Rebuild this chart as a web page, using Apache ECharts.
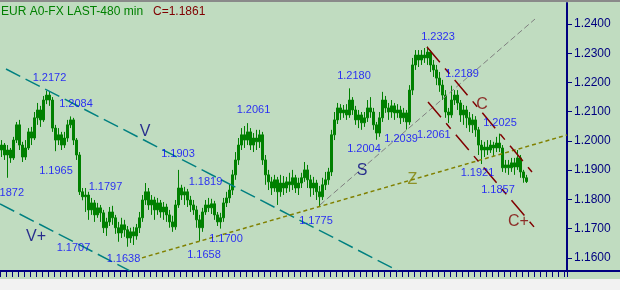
<!DOCTYPE html>
<html>
<head>
<meta charset="utf-8">
<script src="https://cdn.jsdelivr.net/npm/echarts@6/dist/echarts.min.js"></script>
<style>
html,body{margin:0;padding:0;background:#C0DCC0;}
#c{width:620px;height:290px;}
</style>
</head>
<body>
<div id="c"></div>
<script>
// ---- data ----
const titleText = 'EUR A0-FX LAST-480 min';
// OHLC bars: [open, close, low, high]
const bars = [
[1.1969,1.1986,1.1945,1.2003],[1.1986,1.1952,1.1935,1.1993],[1.1952,1.1969,1.1874,1.1986],[1.1969,1.1942,1.1925,1.1976],
[1.1942,1.2003,1.1935,1.2014],[1.2003,1.2055,1.1993,1.2065],[1.2055,1.1986,1.1969,1.2072],[1.1986,1.1945,1.1928,1.1997],
[1.1945,1.1976,1.1935,1.2003],[1.1976,1.2031,1.1969,1.2044],[1.2031,1.2010,1.1986,1.2048],[1.2010,1.2079,1.2003,1.2099],
[1.2079,1.2106,1.2055,1.2130],[1.2106,1.2072,1.2048,1.2120],[1.2072,1.2140,1.2065,1.2154],[1.2140,1.2157,1.2126,1.2172],
[1.2157,1.2140,1.2120,1.2168],[1.2140,1.2044,1.2031,1.2150],[1.2044,1.2003,1.1965,1.2055],[1.2003,1.2021,1.1986,1.2044],
[1.2021,1.1986,1.1969,1.2031],[1.1986,1.2010,1.1976,1.2031],[1.2010,1.2055,1.1997,1.2072],[1.2055,1.2072,1.2044,1.2084],
[1.2072,1.2003,1.1986,1.2079],[1.2003,1.1952,1.1935,1.2010],[1.1952,1.1826,1.1815,1.1962],[1.1826,1.1809,1.1797,1.1839],
[1.1809,1.1815,1.1757,1.1839],[1.1815,1.1764,1.1730,1.1826],[1.1764,1.1788,1.1747,1.1805],[1.1788,1.1747,1.1723,1.1798],
[1.1747,1.1771,1.1737,1.1788],[1.1771,1.1754,1.1723,1.1781],[1.1754,1.1703,1.1685,1.1764],[1.1703,1.1723,1.1675,1.1737],
[1.1723,1.1757,1.1709,1.1774],[1.1757,1.1737,1.1713,1.1778],[1.1737,1.1703,1.1682,1.1747],[1.1703,1.1685,1.1655,1.1723],
[1.1685,1.1713,1.1668,1.1737],[1.1713,1.1696,1.1672,1.1730],[1.1696,1.1668,1.1638,1.1709],[1.1668,1.1689,1.1651,1.1703],
[1.1689,1.1675,1.1644,1.1706],[1.1675,1.1703,1.1662,1.1716],[1.1703,1.1737,1.1685,1.1757],[1.1737,1.1798,1.1723,1.1815],
[1.1798,1.1826,1.1781,1.1856],[1.1826,1.1781,1.1764,1.1839],[1.1781,1.1798,1.1747,1.1815],[1.1798,1.1764,1.1730,1.1809],
[1.1764,1.1788,1.1747,1.1805],[1.1788,1.1757,1.1737,1.1798],[1.1757,1.1774,1.1730,1.1791],[1.1774,1.1747,1.1723,1.1785],
[1.1747,1.1723,1.1703,1.1764],[1.1723,1.1706,1.1689,1.1744],[1.1706,1.1781,1.1696,1.1798],[1.1781,1.1839,1.1771,1.1901],
[1.1839,1.1815,1.1798,1.1850],[1.1815,1.1826,1.1781,1.1843],[1.1826,1.1798,1.1774,1.1836],[1.1798,1.1781,1.1757,1.1812],
[1.1781,1.1764,1.1747,1.1798],[1.1764,1.1730,1.1703,1.1778],[1.1730,1.1703,1.1658,1.1747],[1.1703,1.1757,1.1689,1.1771],
[1.1757,1.1781,1.1747,1.1798],[1.1781,1.1771,1.1757,1.1805],[1.1771,1.1785,1.1750,1.1802],[1.1785,1.1747,1.1730,1.1795],
[1.1747,1.1723,1.1709,1.1757],[1.1723,1.1737,1.1700,1.1754],[1.1737,1.1788,1.1723,1.1805],[1.1788,1.1805,1.1774,1.1826],
[1.1805,1.1832,1.1788,1.1850],[1.1832,1.1884,1.1815,1.1901],[1.1884,1.1935,1.1867,1.1962],[1.1935,1.1986,1.1918,1.2010],
[1.1986,1.2021,1.1969,1.2044],[1.2021,1.2003,1.1976,1.2051],[1.2003,1.2031,1.1986,1.2061],[1.2031,1.1986,1.1969,1.2044],
[1.1986,1.2010,1.1962,1.2027],[1.2010,1.1997,1.1969,1.2038],[1.1997,1.2021,1.1976,1.2038],[1.2021,1.1935,1.1918,1.2031],
[1.1935,1.1884,1.1850,1.1952],[1.1884,1.1860,1.1832,1.1901],[1.1860,1.1839,1.1815,1.1877],[1.1839,1.1867,1.1826,1.1884],
[1.1867,1.1826,1.1781,1.1877],[1.1826,1.1856,1.1809,1.1884],[1.1856,1.1839,1.1815,1.1880],[1.1839,1.1860,1.1822,1.1877],
[1.1860,1.1850,1.1826,1.1891],[1.1850,1.1874,1.1832,1.1901],[1.1874,1.1839,1.1822,1.1884],[1.1839,1.1856,1.1815,1.1874],
[1.1856,1.1874,1.1839,1.1891],[1.1874,1.1901,1.1860,1.1928],[1.1901,1.1867,1.1839,1.1918],[1.1867,1.1839,1.1809,1.1884],
[1.1839,1.1856,1.1815,1.1877],[1.1856,1.1826,1.1798,1.1867],[1.1826,1.1809,1.1775,1.1846],[1.1809,1.1850,1.1798,1.1874],
[1.1850,1.1867,1.1832,1.1894],[1.1867,1.1894,1.1850,1.1908],[1.1894,1.2021,1.1880,1.2038],[1.2021,1.2072,1.2003,1.2099],
[1.2072,1.2113,1.2058,1.2130],[1.2113,1.2096,1.2072,1.2126],[1.2096,1.2106,1.2079,1.2123],[1.2106,1.2089,1.2072,1.2126],
[1.2089,1.2140,1.2079,1.2180],[1.2140,1.2106,1.2089,1.2150],[1.2106,1.2072,1.2055,1.2120],[1.2072,1.2089,1.2044,1.2106],
[1.2089,1.2062,1.2038,1.2099],[1.2062,1.2079,1.2048,1.2099],[1.2079,1.2113,1.2065,1.2140],[1.2113,1.2099,1.2079,1.2150],
[1.2099,1.2055,1.2038,1.2113],[1.2055,1.2027,1.2004,1.2065],[1.2027,1.2079,1.2014,1.2099],[1.2079,1.2140,1.2065,1.2168],
[1.2140,1.2113,1.2096,1.2154],[1.2113,1.2099,1.2072,1.2130],[1.2099,1.2120,1.2079,1.2140],[1.2120,1.2096,1.2072,1.2130],
[1.2096,1.2106,1.2079,1.2126],[1.2106,1.2079,1.2058,1.2120],[1.2079,1.2096,1.2065,1.2113],[1.2096,1.2065,1.2039,1.2106],
[1.2065,1.2174,1.2055,1.2191],[1.2174,1.2260,1.2157,1.2284],[1.2260,1.2294,1.2243,1.2311],[1.2294,1.2277,1.2253,1.2311],
[1.2277,1.2294,1.2260,1.2311],[1.2294,1.2284,1.2267,1.2318],[1.2284,1.2304,1.2260,1.2323],[1.2304,1.2260,1.2236,1.2311],
[1.2260,1.2243,1.2219,1.2277],[1.2243,1.2215,1.2191,1.2260],[1.2215,1.2191,1.2168,1.2236],[1.2191,1.2157,1.2140,1.2209],
[1.2157,1.2099,1.2079,1.2174],[1.2099,1.2089,1.2061,1.2113],[1.2089,1.2140,1.2079,1.2189],[1.2140,1.2157,1.2123,1.2174],
[1.2157,1.2130,1.2106,1.2174],[1.2130,1.2089,1.2065,1.2140],[1.2089,1.2106,1.2055,1.2123],[1.2106,1.2079,1.2044,1.2120],
[1.2079,1.2055,1.2031,1.2099],[1.2055,1.2072,1.2027,1.2092],[1.2072,1.2038,1.2014,1.2085],[1.2038,1.1986,1.1952,1.2048],
[1.1986,1.1969,1.1921,1.2003],[1.1969,1.1979,1.1945,1.1997],[1.1979,1.1969,1.1952,1.2003],[1.1969,1.1986,1.1959,1.2003],
[1.1986,1.1976,1.1949,1.1997],[1.1976,1.1993,1.1962,1.2014],[1.1993,1.1976,1.1962,1.2025],[1.1976,1.1908,1.1894,1.1986],
[1.1908,1.1918,1.1891,1.1935],[1.1918,1.1908,1.1884,1.1935],[1.1908,1.1925,1.1894,1.1942],[1.1925,1.1911,1.1884,1.1942],
[1.1911,1.1942,1.1901,1.1969],[1.1942,1.1894,1.1874,1.1952],[1.1894,1.1874,1.1857,1.1901],[1.1874,1.1861,1.1856,1.1884]
];
const slotCount = 189;              // bar slots along the time axis
const priceTicks = [1.16,1.17,1.18,1.19,1.20,1.21,1.22,1.23,1.24];

// pivot annotations: text, slot position, price position
const pivotLabels = ['1.2172','1.2084','1.1965','1.1872','1.1797','1.1707','1.1638','1.1903','1.1819','1.1700','1.1658',
                     '1.2061','1.1775','1.2180','1.2004','1.2039','1.2061','1.2323','1.2189','1.2025','1.1921','1.1857'];
const pivotSlots  = [16.0,24.83,18.17,1.9,34.67,24,40.67,58.83,68,74.83,67.5,
                     84,104.83,117.5,120.83,133.2,144.1,145.5,153.5,166.17,158.67,165.5];
const pivotPrices = [1.2215,1.2126,1.1897,1.1822,1.1843,1.1634,1.1597,1.1956,1.1860,1.1665,1.1610,
                     1.2106,1.1727,1.2222,1.1973,1.2007,1.2021,1.2356,1.2229,1.2062,1.1891,1.1833];

// wave tags
const waveTags   = ['V','V+','S','Z','C','C+'];
const waveSlots  = [47.83,11.5,120.17,137,160.17,172.33];
const wavePrices = [1.2031,1.1672,1.1897,1.1867,1.2123,1.1723];

// trend lines: [slot, price] endpoints
const lineV     = [[1.5,1.22462],[132.17,1.15556]];
const lineVplus = [[-0.5,1.17846],[42.83,1.15556]];
const lineS     = [[106.17,1.17812],[177.83,1.24171]];
const lineZ     = [[46.83,1.16],[188.5,1.20205]];
const lineC     = [[141.83,1.23214],[176.83,1.18940]];
const lineCplus = [[142.17,1.21333],[177.5,1.17060]];

// ---- chart ----
const F = 'Arial, "Liberation Sans", sans-serif';
const categories = Array.from({length: slotCount}, (_, i) => String(i));
const lastClose = bars[bars.length - 1][1];

const tagColors = {'V':'#000080','V+':'#000080','S':'#000080','Z':'#808000','C':'#800000','C+':'#800000'};

function lineSeries(pts, color, dash, width) {
  return {
    type: 'line', xAxisIndex: 1, yAxisIndex: 0, data: pts, showSymbol: false, symbol: 'none',
    silent: true, z: 3, lineStyle: {color: color, width: width, type: dash}
  };
}

const chart = echarts.init(document.getElementById('c'), null, {renderer: 'canvas'});
chart.setOption({
  animation: false,
  backgroundColor: '#C0DCC0',
  title: [
    {text: titleText, left: 1, top: 6, padding: 0,
     textStyle: {color: '#008000', fontSize: 12, fontWeight: 'normal', fontFamily: F}},
    {text: 'C=' + lastClose.toFixed(4), left: 153, top: 6, padding: 0,
     textStyle: {color: '#800000', fontSize: 12, fontWeight: 'normal', fontFamily: F}}
  ],
  grid: {left: 0, right: 53, top: 3, bottom: 19, containLabel: false},
  xAxis: [
    {type: 'category', data: categories, boundaryGap: true,
     axisLine: {show: true, lineStyle: {color: '#000080', width: 2}},
     axisTick: {show: true, interval: 1, length: 6, inside: false, lineStyle: {color: '#000080', width: 1}},
     axisLabel: {show: false}, splitLine: {show: false}},
    {type: 'value', min: -0.5, max: slotCount - 0.5, show: false}
  ],
  yAxis: {
    type: 'value', position: 'right', min: 1.1555, max: 1.2472, scale: true,
    axisLine: {show: true, onZero: false, lineStyle: {color: '#000080', width: 2}},
    axisTick: {show: true, length: 5, inside: false, customValues: priceTicks, lineStyle: {color: '#000080', width: 1}},
    axisLabel: {show: true, customValues: priceTicks, formatter: v => Number(v).toFixed(4),
                color: '#000080', fontSize: 12, margin: 7, fontFamily: F},
    splitLine: {show: false}
  },
  graphic: [
    {type: 'rect', shape: {x: 0, y: 0, width: 620, height: 2}, style: {fill: '#8a8a8a'}, silent: true},
    {type: 'rect', shape: {x: 0, y: 279, width: 620, height: 11}, style: {fill: '#f2f2f2'}, silent: true},
    {type: 'line', shape: {x1: 567, y1: 271, x2: 620, y2: 271}, style: {stroke: '#000080', lineWidth: 2}, silent: true}
  ],
  series: [
    {type: 'candlestick', data: bars, barWidth: 2, silent: true, z: 2,
     itemStyle: {color: '#008000', color0: '#008000', borderColor: '#008000', borderColor0: '#008000', borderWidth: 1}},
    lineSeries(lineV, '#008080', [16, 6], 1.5),
    lineSeries(lineVplus, '#008080', [16, 6], 1.5),
    lineSeries(lineS, '#808080', [6, 3], 1),
    lineSeries(lineZ, '#808000', [4, 3], 1.5),
    lineSeries(lineC, '#800000', [20, 8, 7, 8], 1.5),
    lineSeries(lineCplus, '#800000', [20, 8, 7, 8], 1.5),
    {type: 'scatter', xAxisIndex: 1, yAxisIndex: 0, silent: true, z: 5, symbolSize: 1,
     itemStyle: {color: 'rgba(0,0,0,0)'},
     data: pivotLabels.map((t, i) => ({name: t, value: [pivotSlots[i], pivotPrices[i]]})),
     label: {show: true, position: 'inside', formatter: '{b}', color: '#0000FF', fontSize: 11, fontFamily: F}},
    {type: 'scatter', xAxisIndex: 1, yAxisIndex: 0, silent: true, z: 5, symbolSize: 1,
     itemStyle: {color: 'rgba(0,0,0,0)'},
     data: waveTags.map((t, i) => ({name: t, value: [waveSlots[i], wavePrices[i]],
                                     label: {color: tagColors[t]}})),
     label: {show: true, position: 'inside', formatter: '{b}', fontSize: 16, fontFamily: F}}
  ]
});
</script>
</body>
</html>
